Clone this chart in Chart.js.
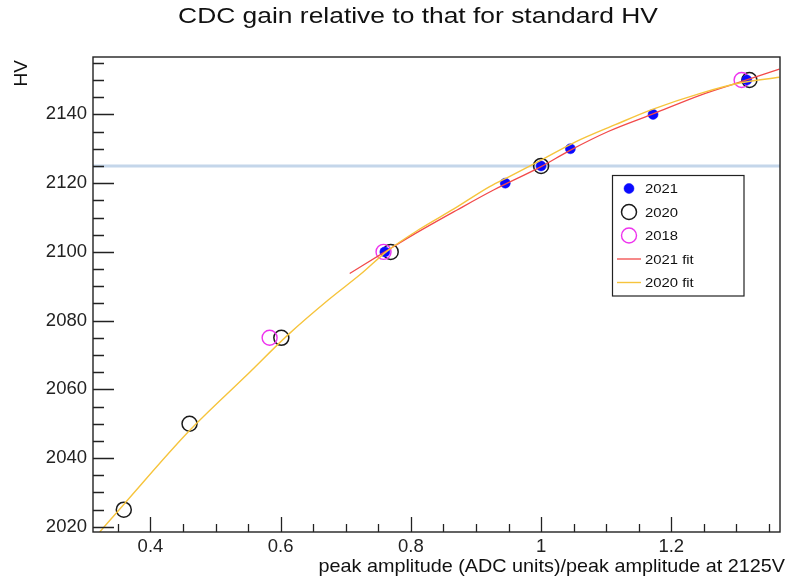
<!DOCTYPE html>
<html lang="en">

<head>
    <meta charset="utf-8" />
    <title>CDC gain</title>
    <style>
        html, body {
            margin: 0;
            padding: 0;
            background: #fff;
        }

        .plot {
            width: 789px;
            height: 581px;
        }
    </style>
</head>

<body>
    <div class="plot">
        <canvas id="gainchart"></canvas>
    </div>
    <script src="https://cdn.jsdelivr.net/npm/chart.js@4.4.1/dist/chart.umd.min.js"></script>

    <script>
        // axis ranges and tick labels
        const xMin = 0.3117;
        const xMax = 1.367;
        const yMin = 2018.5;
        const yMax = 2156.7;
        const xTicks = [0.4, 0.6, 0.8, 1, 1.2];
        const yTicks = [2020, 2040, 2060, 2080, 2100, 2120, 2140];
        const standardHV = 2125;

        // measured points
        const amp2021 = [0.760, 0.945, 1.000, 1.045, 1.172, 1.316];
        const hv2021 = [2100, 2120, 2125, 2130, 2140, 2150];
        const amp2020 = [0.359, 0.460, 0.601, 0.769, 1.000, 1.320];
        const hv2020 = [2025, 2050, 2075, 2100, 2125, 2150];
        const amp2018 = [0.583, 0.758, 1.308];
        const hv2018 = [2075, 2100, 2150];

        // fit curves
        const fitAmp2021 = [0.706, 0.760, 0.800, 0.871, 0.927, 1.000, 1.043, 1.104, 1.170, 1.246, 1.317, 1.366];
        const fitHv2021 = [2093.7, 2100.0, 2104.6, 2112.2, 2118.0, 2124.8, 2129.4, 2135.1, 2140.0, 2145.7, 2150.1, 2153.2];
        const fitAmp2020 = [0.322, 0.358, 0.460, 0.546, 0.612, 0.673, 0.724, 0.764, 0.815, 0.866, 0.921, 0.952, 1.003, 1.053, 1.114, 1.170, 1.246, 1.307, 1.366];
        const fitHv2020 = [2018.5, 2026.3, 2048.0, 2063.8, 2076.0, 2086.0, 2093.7, 2100.3, 2106.8, 2112.5, 2119.0, 2122.0, 2127.0, 2132.0, 2137.0, 2141.4, 2146.2, 2149.2, 2150.8];

        const legendNames = ['2021', '2020', '2018', '2021 fit', '2020 fit'];

        const FONT = '"Liberation Sans", Arial, Helvetica, sans-serif';

        function pts(xs, ys) {
            return xs.map((x, i) => ({ x: x, y: ys[i] }));
        }

        // text a bit wider than the font, like the original picture
        function wideText(ctx, text, x, y, sx) {
            ctx.save();
            ctx.translate(x, y);
            ctx.scale(sx, 1);
            ctx.fillText(text, 0, 0);
            ctx.restore();
        }

        // frame, inward ticks, titles and legend box (ROOT look)
        const rootFrame = {
            id: 'rootFrame',
            afterDraw(chart) {
                const ctx = chart.ctx;
                const a = chart.chartArea;
                const sx = chart.scales.x;
                const sy = chart.scales.y;
                ctx.save();

                // frame
                ctx.strokeStyle = '#222';
                ctx.lineWidth = 1.4;
                ctx.strokeRect(a.left, a.top, a.right - a.left, a.bottom - a.top);

                // y ticks
                ctx.lineWidth = 1.3;
                ctx.beginPath();
                for (let v = 2020; v <= yMax; v += 5) {
                    const py = Math.round(sy.getPixelForValue(v)) + 0.5;
                    const len = (v % 20 === 0) ? 21 : 11;
                    ctx.moveTo(a.left, py);
                    ctx.lineTo(a.left + len, py);
                }
                // x ticks
                for (let k = 7; k * 0.05 <= xMax; k++) {
                    const v = k * 0.05;
                    const px = Math.round(sx.getPixelForValue(v)) + 0.5;
                    const len = (k % 4 === 0) ? 15 : 8;
                    ctx.moveTo(px, a.bottom);
                    ctx.lineTo(px, a.bottom - len);
                }
                ctx.stroke();

                // title
                ctx.fillStyle = '#111';
                ctx.font = '22px ' + FONT;
                ctx.textAlign = 'center';
                ctx.textBaseline = 'alphabetic';
                wideText(ctx, 'CDC gain relative to that for standard HV', 418, 23, 1.2);

                // x title
                ctx.font = '18.5px ' + FONT;
                ctx.textAlign = 'right';
                wideText(ctx, 'peak amplitude (ADC units)/peak amplitude at 2125V', 785, 572, 1.07);

                // y title
                ctx.save();
                ctx.translate(27, 60);
                ctx.rotate(-Math.PI / 2);
                ctx.textAlign = 'right';
                ctx.textBaseline = 'alphabetic';
                ctx.font = '19px ' + FONT;
                ctx.fillText('HV', 0, 0);
                ctx.restore();

                // legend
                const lx = 612.5, ly = 175.5, lw = 131.5, lh = 120.5;
                ctx.fillStyle = '#fff';
                ctx.fillRect(lx, ly, lw, lh);
                ctx.strokeStyle = '#222';
                ctx.lineWidth = 1.2;
                ctx.strokeRect(lx, ly, lw, lh);
                const ds = chart.data.datasets;
                const rows = [ds[3], ds[1], ds[2], ds[4], ds[5]];
                ctx.font = '13.5px ' + FONT;
                ctx.textAlign = 'left';
                ctx.textBaseline = 'middle';
                rows.forEach((d, i) => {
                    const cy = 188.5 + i * 23.5;
                    if (d.showLine) {
                        ctx.strokeStyle = d.borderColor;
                        ctx.lineWidth = d.borderWidth;
                        ctx.beginPath();
                        ctx.moveTo(617, cy);
                        ctx.lineTo(641, cy);
                        ctx.stroke();
                    } else {
                        ctx.beginPath();
                        ctx.arc(629, cy, d.pointRadius, 0, Math.PI * 2);
                        if (d.pointBackgroundColor !== 'transparent') {
                            ctx.fillStyle = d.pointBackgroundColor;
                            ctx.fill();
                        }
                        ctx.strokeStyle = d.pointBorderColor;
                        ctx.lineWidth = d.pointBorderWidth;
                        ctx.stroke();
                    }
                    ctx.fillStyle = '#111';
                    wideText(ctx, legendNames[i], 645, cy + 1, 1.1);
                });

                ctx.restore();
            }
        };

        const tickFont = { family: FONT, size: 18.5 };

        new Chart(document.getElementById('gainchart'), {
            type: 'scatter',
            data: {
                datasets: [
                    // standard HV line
                    {
                        label: 'standard HV',
                        data: [{ x: xMin, y: standardHV }, { x: xMax, y: standardHV }],
                        showLine: true,
                        borderColor: '#c4d6ea',
                        borderWidth: 3,
                        pointRadius: 0,
                        order: 5
                    },
                    {
                        label: '2020',
                        data: pts(amp2020, hv2020),
                        showLine: false,
                        pointRadius: 7.5,
                        pointBackgroundColor: 'transparent',
                        pointBorderColor: '#1a1a1a',
                        pointBorderWidth: 1.5,
                        order: 4
                    },
                    {
                        label: '2018',
                        data: pts(amp2018, hv2018),
                        showLine: false,
                        pointRadius: 7.5,
                        pointBackgroundColor: 'transparent',
                        pointBorderColor: '#ee33ee',
                        pointBorderWidth: 1.4,
                        order: 3
                    },
                    {
                        label: '2021',
                        data: pts(amp2021, hv2021),
                        showLine: false,
                        pointRadius: 5,
                        pointBackgroundColor: '#0a0aff',
                        pointBorderColor: '#0a0aff',
                        pointBorderWidth: 0.5,
                        order: 2
                    },
                    {
                        label: '2021 fit',
                        data: pts(fitAmp2021, fitHv2021),
                        showLine: true,
                        borderColor: '#f24a4a',
                        borderWidth: 1.3,
                        pointRadius: 0,
                        cubicInterpolationMode: 'monotone',
                        order: 1
                    },
                    {
                        label: '2020 fit',
                        data: pts(fitAmp2020, fitHv2020),
                        showLine: true,
                        borderColor: '#f6c43c',
                        borderWidth: 1.4,
                        pointRadius: 0,
                        cubicInterpolationMode: 'monotone',
                        order: 0
                    }
                ]
            },
            options: {
                responsive: true,
                maintainAspectRatio: false,
                animation: false,
                layout: {
                    padding: { top: 57, right: 3, left: 0, bottom: 0 }
                },
                plugins: {
                    legend: { display: false },
                    tooltip: { enabled: false },
                    title: { display: false }
                },
                scales: {
                    x: {
                        type: 'linear',
                        min: xMin,
                        max: xMax,
                        afterBuildTicks: (s) => { s.ticks = xTicks.map(v => ({ value: v })); },
                        afterFit: (s) => { s.height = 49; },
                        grid: { display: false, drawTicks: false },
                        border: { display: false },
                        ticks: {
                            font: tickFont,
                            color: '#222',
                            padding: 4,
                            maxRotation: 0,
                            callback: (v) => String(v)
                        }
                    },
                    y: {
                        type: 'linear',
                        min: yMin,
                        max: yMax,
                        afterBuildTicks: (s) => { s.ticks = yTicks.map(v => ({ value: v })); },
                        afterFit: (s) => { s.width = 93; },
                        grid: { display: false, drawTicks: false },
                        border: { display: false },
                        ticks: {
                            font: tickFont,
                            color: '#222',
                            padding: 6,
                            callback: (v) => String(v)
                        }
                    }
                }
            },
            plugins: [rootFrame]
        });
    </script>

</body>

</html>
